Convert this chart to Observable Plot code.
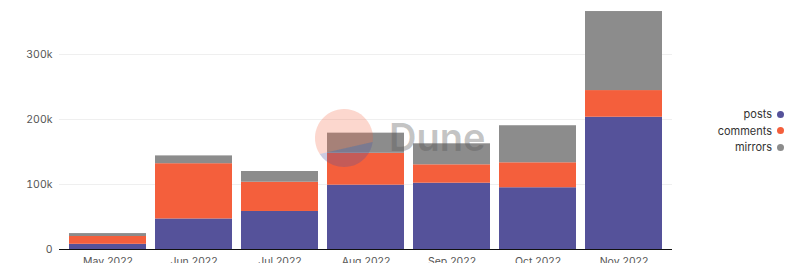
<!DOCTYPE html>
<html>
<head>
<meta charset="utf-8">
<script src="https://cdn.jsdelivr.net/npm/d3@7"></script>
<script src="https://cdn.jsdelivr.net/npm/@observablehq/plot@0.6"></script>
<style>
  html, body { margin: 0; padding: 0; background: #fff; }
  #wrap { position: relative; width: 800px; height: 263px; overflow: hidden; font-family: Inter, "Noto Sans", sans-serif; }
  #legend { position: absolute; right: 16px; top: 106px; font-size: 11px; color: #333; }
  #legend .row { display: flex; align-items: center; justify-content: flex-end; height: 16.5px; }
  #legend .dot { width: 7px; height: 7px; border-radius: 50%; margin-left: 5px; }
  #mark { position: absolute; left: 0; top: 0; pointer-events: none; }
</style>
</head>
<body>
<div id="wrap"></div>
<script>
// Monthly activity counts
const months   = ["May 2022", "Jun 2022", "Jul 2022", "Aug 2022", "Sep 2022", "Oct 2022", "Nov 2022"];
const posts    = [8000, 47000, 58500, 99000, 102000, 95000, 203500];
const comments = [12000, 85000, 45000, 49000, 28300, 38400, 41000];
const mirrors  = [4500, 12000, 16500, 31000, 32300, 57000, 121600];

const seriesNames  = ["posts", "comments", "mirrors"];
const seriesColors = ["#55529a", "#f45f3c", "#8c8c8c"];
const yTicks = [0, 100000, 200000, 300000];

const seriesValues = [posts, comments, mirrors];
const rows = [];
months.forEach((m, i) => {
  seriesNames.forEach((s, j) => rows.push({month: m, type: s, value: seriesValues[j][i]}));
});

const chart = Plot.plot({
  width: 800,
  height: 263,
  marginTop: 2,
  marginBottom: 14,
  marginLeft: 59,
  marginRight: 128,
  style: {fontFamily: "Inter, 'Noto Sans', sans-serif", fontSize: "10.5px", color: "#555", background: "#fff"},
  x: {domain: months, padding: 0.1, label: null, tickSize: 0, tickPadding: 8},
  y: {domain: [0, 380000], label: null, ticks: yTicks, tickSize: 0, tickPadding: 7,
      tickFormat: d => d === 0 ? "0" : (d / 1000) + "k"},
  color: {domain: seriesNames, range: seriesColors},
  marks: [
    Plot.gridY(yTicks.filter(d => d > 0), {stroke: "#efefef", strokeOpacity: 1}),
    Plot.barY(rows, {x: "month", y: "value", fill: "type", order: seriesNames}),
    Plot.ruleY([0], {stroke: "#111", strokeWidth: 1})
  ]
});

const wrap = document.getElementById("wrap");
wrap.appendChild(chart);

// Legend on the right
const legend = document.createElement("div");
legend.id = "legend";
seriesNames.forEach((name, i) => {
  const row = document.createElement("div");
  row.className = "row";
  const label = document.createElement("span");
  label.textContent = name;
  const dot = document.createElement("span");
  dot.className = "dot";
  dot.style.background = seriesColors[i];
  row.appendChild(label);
  row.appendChild(dot);
  legend.appendChild(row);
});
wrap.appendChild(legend);

// Dune watermark
const ns = "http://www.w3.org/2000/svg";
const wm = document.createElementNS(ns, "svg");
wm.id = "mark";
wm.setAttribute("width", 800);
wm.setAttribute("height", 263);
wm.innerHTML = `
  <path d="M 372.7 142 A 29 29 0 1 0 319.7 153.9 Z" fill="#f45f3c" fill-opacity="0.25"/>
  <path d="M 372.7 142 A 29 29 0 0 1 319.7 153.9 Z" fill="#55529a" fill-opacity="0.3"/>
  <text x="389" y="151" font-family="Inter, 'Noto Sans', sans-serif" font-size="38" font-weight="600" fill="#555" fill-opacity="0.35">Dune</text>
`;
wrap.appendChild(wm);
</script>
</body>
</html>
